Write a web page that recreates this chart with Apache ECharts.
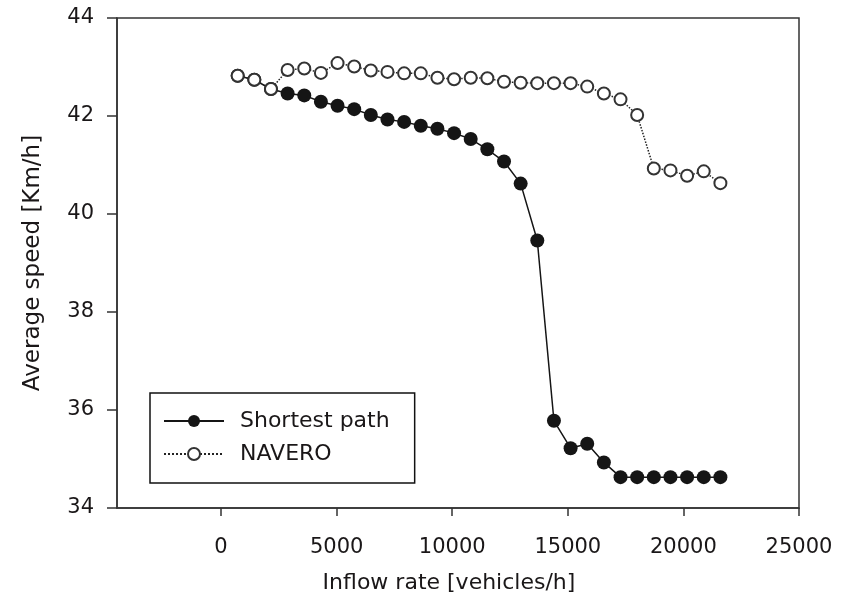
<!DOCTYPE html>
<html>
<head>
<meta charset="utf-8">
<script src="https://cdn.jsdelivr.net/npm/echarts@6/dist/echarts.min.js"></script>
<style>
  html, body { margin: 0; padding: 0; background: #fff; }
  #chart { width: 842px; height: 603px; }
</style>
</head>
<body>
<div id="chart"></div>
<script>
// inflow rate [vehicles/h]
const inflow = [720, 1440, 2160, 2880, 3600, 4320, 5040, 5760, 6480, 7200,
                7920, 8640, 9360, 10080, 10800, 11520, 12240, 12960, 13680, 14400,
                15120, 15840, 16560, 17280, 18000, 18720, 19440, 20160, 20880, 21600];

// average speed [Km/h]
const shortestPath = [42.82, 42.74, 42.55, 42.46, 42.42, 42.29, 42.21, 42.14, 42.02, 41.93,
                      41.88, 41.80, 41.74, 41.65, 41.53, 41.32, 41.07, 40.62, 39.46, 35.78,
                      35.22, 35.31, 34.93, 34.63, 34.63, 34.63, 34.63, 34.63, 34.63, 34.63];
const navero = [42.82, 42.74, 42.55, 42.94, 42.97, 42.88, 43.08, 43.01, 42.93, 42.90,
                42.87, 42.87, 42.78, 42.75, 42.78, 42.77, 42.70, 42.68, 42.67, 42.67,
                42.67, 42.60, 42.46, 42.34, 42.02, 40.93, 40.89, 40.78, 40.87, 40.63];

const xTicks = [0, 5000, 10000, 15000, 20000, 25000];

const pairs = (ys) => inflow.map((x, i) => [x, ys[i]]);

const chart = echarts.init(document.getElementById('chart'));
const textColor = '#1a1718';
const font = 'DejaVu Sans';

const option = {
    animation: false,
    backgroundColor: '#fff',
    textStyle: { fontFamily: font, color: textColor },
    grid: {
        left: 117,
        right: 43,
        top: 18,
        bottom: 95,
        show: true,
        borderColor: '#333',
        borderWidth: 1.5
    },
    legend: {
        left: 150,
        top: 393,
        orient: 'vertical',
        itemWidth: 60,
        itemHeight: 15,
        itemGap: 11,
        padding: [17, 25, 18, 13],
        borderColor: '#111',
        borderWidth: 1.5,
        textStyle: {
            fontFamily: font,
            fontSize: 22,
            color: textColor,
            padding: [0, 0, 0, 11]
        },
        data: ['Shortest path', 'NAVERO']
    },
    xAxis: {
        type: 'value',
        min: -4500,
        max: 25000,
        name: 'Inflow rate [vehicles/h]',
        nameLocation: 'middle',
        nameGap: 64,
        nameTextStyle: { fontFamily: font, fontSize: 22, color: textColor, padding: [0, 18, 0, 0] },
        axisLine: { onZero: false, lineStyle: { color: '#333', width: 1.5 } },
        axisTick: { customValues: xTicks, length: 8, lineStyle: { color: '#333', width: 1.5 } },
        axisLabel: {
            customValues: xTicks,
            margin: 29,
            fontFamily: font,
            fontSize: 21,
            color: textColor,
            formatter: (v) => String(v)
        },
        splitLine: { show: false }
    },
    yAxis: {
        type: 'value',
        min: 34,
        max: 44,
        interval: 2,
        name: 'Average speed [Km/h]',
        nameLocation: 'middle',
        nameGap: 72,
        nameTextStyle: { fontFamily: font, fontSize: 23, color: textColor },
        axisLine: { show: true, onZero: false, lineStyle: { color: '#333', width: 1.5 } },
        axisTick: { inside: false, length: 10, lineStyle: { color: '#333', width: 1.5 } },
        axisLabel: { margin: 23, fontFamily: font, fontSize: 21, color: textColor },
        splitLine: { show: false }
    },
    series: [
        {
            name: 'Shortest path',
            type: 'line',
            data: pairs(shortestPath),
            symbol: 'circle',
            symbolSize: 14,
            showAllSymbol: true,
            itemStyle: { color: '#151515' },
            lineStyle: { color: '#151515', width: 1.5 },
            z: 2
        },
        {
            name: 'NAVERO',
            type: 'line',
            data: pairs(navero),
            symbol: 'emptyCircle',
            symbolSize: 12,
            showAllSymbol: true,
            itemStyle: { color: '#333', borderWidth: 2 },
            lineStyle: { color: '#222', width: 1.5, type: 'dotted' },
            z: 3
        }
    ]
};

option && chart.setOption(option);
</script>
</body>
</html>
